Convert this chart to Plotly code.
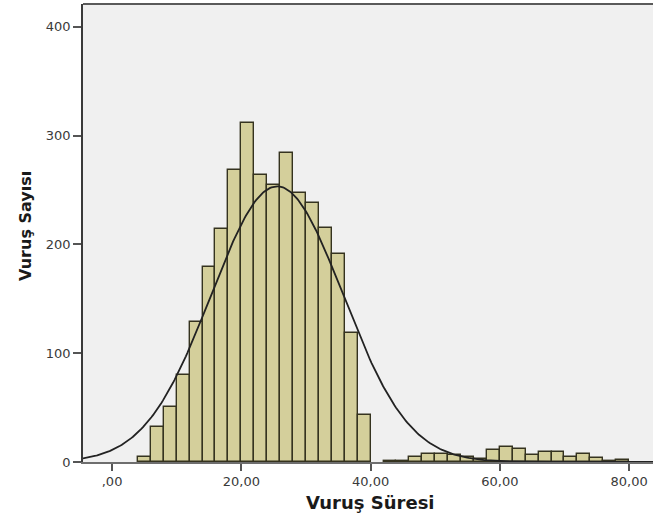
import numpy as np
import plotly.graph_objects as go

# Histogram bins (width 2) : left edges and counts
bin_width = 2
bin_left = [4, 6, 8, 10, 12, 14, 16, 18, 20, 22, 24, 26, 28, 30, 32, 34, 36, 38,
            42, 44, 46, 48, 50, 52, 54, 56, 58, 60, 62, 64, 66, 68, 70, 72, 74, 76, 78]
counts = [5, 32, 51, 80, 129, 179, 214, 268, 312, 264, 255, 284, 247, 238, 215, 191, 119, 43,
          1, 1, 5, 7, 7, 6, 5, 3, 11, 14, 12, 6, 9, 9, 5, 7, 3.5, 1, 2]

x_tickvals = [0, 20, 40, 60, 80]
x_ticktext = [",00", "20,00", "40,00", "60,00", "80,00"]
y_tickvals = [0, 100, 200, 300, 400]
y_ticktext = ["0", "100", "200", "300", "400"]

x_title = "Vuruş Süresi"
y_title = "Vuruş Sayısı"

mids = np.array(bin_left) + bin_width / 2
c = np.array(counts, dtype=float)
n_total = c.sum()
mean = (mids * c).sum() / n_total
sd = np.sqrt(((mids - mean) ** 2 * c).sum() / (n_total - 1))

x_range = [-4.5, 83.7]
y_range = [0, 421]

xs = np.linspace(x_range[0], x_range[1], 400)
ys = n_total * bin_width * np.exp(-0.5 * ((xs - mean) / sd) ** 2) / (sd * np.sqrt(2 * np.pi))

fig = go.Figure()
fig.add_trace(go.Bar(
    x=mids, y=counts, width=bin_width,
    marker=dict(color="#d4cf9b", line=dict(color="#35331f", width=1.4)),
    hoverinfo="x+y", showlegend=False,
))
fig.add_trace(go.Scatter(
    x=xs, y=ys, mode="lines",
    line=dict(color="#222222", width=1.8), showlegend=False, hoverinfo="skip",
))

tickfont = dict(family="DejaVu Sans", size=13, color="#3a3a3a")
fig.update_layout(
    width=653, height=519,
    margin=dict(l=83, r=0, t=4, b=57),
    paper_bgcolor="white", plot_bgcolor="#f0f0f0",
    bargap=0,
    xaxis=dict(range=x_range, tickvals=x_tickvals, ticktext=x_ticktext,
               showgrid=False, zeroline=False, showline=True, linecolor="#6e6e6e", linewidth=1.5,
               ticks="outside", ticklen=7, tickcolor="#555555", tickwidth=1.5, tickfont=tickfont),
    yaxis=dict(range=y_range, tickvals=y_tickvals, ticktext=y_ticktext,
               showgrid=False, zeroline=False, showline=True, linecolor="#3a3a3a", linewidth=1.5,
               ticks="outside", ticklen=8, tickcolor="#555555", tickwidth=1.5, tickfont=tickfont),
    shapes=[dict(type="line", xref="paper", yref="paper", x0=0, x1=1, y0=1, y1=1,
                 line=dict(color="#5a5a5a", width=2))],
    annotations=[
        dict(text="<b>" + x_title + "</b>", xref="paper", yref="paper",
             x=0.505, y=-0.0895, xanchor="center", yanchor="middle", showarrow=False,
             font=dict(family="DejaVu Sans", size=18, color="#1a1a1a")),
        dict(text="<b>" + y_title + "</b>", xref="paper", yref="paper",
             x=-0.1018, y=0.515, xanchor="center", yanchor="middle", showarrow=False, textangle=-90,
             font=dict(family="DejaVu Sans", size=16, color="#1a1a1a")),
    ],
)

fig.write_html("out.html")
